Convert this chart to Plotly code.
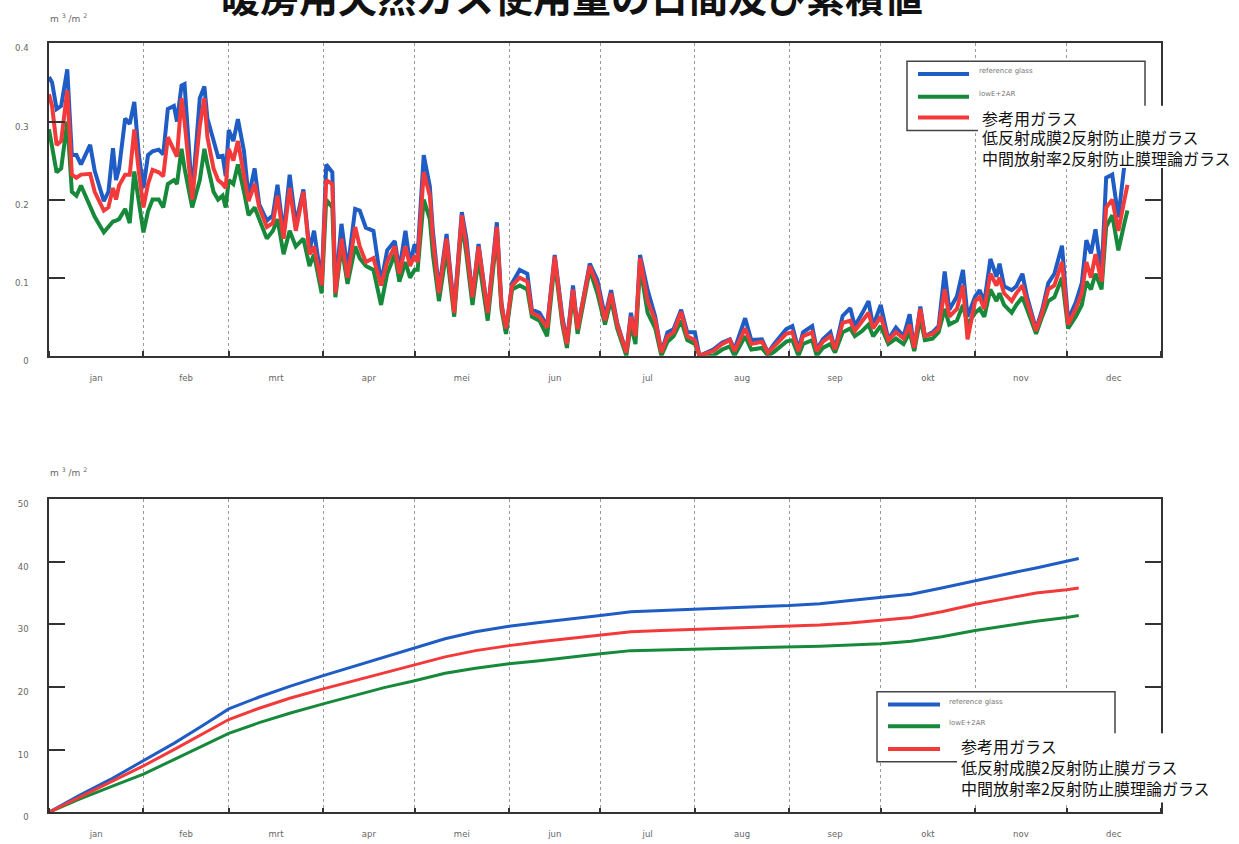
import plotly.graph_objects as go

W, H = 1239, 844

# ---------------- data ----------------
month_labels = ["jan", "feb", "mrt", "apr", "mei", "jun", "jul", "aug", "sep", "okt", "nov", "dec"]
month_starts = [0, 31, 59, 90, 120, 151, 181, 212, 243, 273, 304, 334, 365]
month_mids = [15.5, 45, 74.5, 105, 135.5, 166, 196.5, 227.5, 258, 288.5, 319, 349.5]

series_names = ["reference glass", "lowE+2AR", "mid-e+2AR"]
jp_labels = ["参考用ガラス", "低反射成膜2反射防止膜ガラス", "中間放射率2反射防止膜理論ガラス"]

daily_day = [0, 1, 2.5, 4, 6, 7.5, 9, 10.5, 13.5, 15, 18, 19.5, 21, 22, 23, 25, 26.5, 28, 29.5, 31,
             32.5, 34, 36, 37.5, 39, 41, 42, 43.5, 44.5, 47, 49.5, 51, 52, 54, 55.5, 57, 58, 59, 60.5, 62,
             64, 65.5, 67.5, 69, 71.5, 73.5, 75, 77, 79, 81, 83.5, 85.5, 87, 89.5, 91, 93, 94, 96, 98, 100.5,
             102, 104, 106.5, 109, 111, 113.5, 115, 117, 118.5, 120, 121, 123, 125, 126, 128, 130.5, 133, 135.5, 137, 139,
             141, 144, 147, 148.5, 150, 152, 154.5, 157, 158.5, 161, 163.5, 166, 168.5, 170, 172, 173.5, 177.5, 180, 182.5, 184.5,
             186.5, 189.5, 191, 192.5, 194, 196.5, 199, 201, 203, 205, 207.5, 209.5, 212, 213.5, 218, 221, 223.5, 225, 228.5, 230.5,
             234, 236, 238, 242, 244, 246, 247.5, 250.5, 252, 254, 256.5, 258, 260.5, 263, 264.5, 267, 269, 270.5, 273, 275.5,
             278, 280.5, 282.5, 284, 286, 287.5, 290, 292, 294, 295.5, 298, 300, 301.5, 304, 305.5, 307, 309, 311, 312, 313.5,
             316, 317.5, 319.5, 321, 324, 326, 328, 330, 332.5, 334.5, 337, 339, 340.5, 342, 343.5, 345.5, 347, 349, 351, 353, 354]

daily_ref = [0.357, 0.35, 0.316, 0.32, 0.367, 0.257, 0.257, 0.245, 0.27, 0.237, 0.198, 0.21, 0.266, 0.225, 0.24, 0.304, 0.297, 0.325, 0.257, 0.215,
             0.257, 0.262, 0.264, 0.258, 0.316, 0.32, 0.3, 0.346, 0.348, 0.205, 0.33, 0.345, 0.304, 0.274, 0.255, 0.256, 0.23, 0.289, 0.275, 0.303,
             0.262, 0.203, 0.24, 0.194, 0.173, 0.18, 0.219, 0.156, 0.232, 0.169, 0.213, 0.135, 0.16, 0.093, 0.245, 0.235, 0.084, 0.169, 0.11, 0.188,
             0.186, 0.164, 0.16, 0.093, 0.135, 0.147, 0.11, 0.16, 0.118, 0.143, 0.13, 0.257, 0.217, 0.16, 0.084, 0.156, 0.059, 0.184, 0.15, 0.076,
             0.143, 0.055, 0.171, 0.068, 0.03, 0.093, 0.11, 0.105, 0.059, 0.055, 0.038, 0.129, 0.05, 0.017, 0.09, 0.034, 0.118, 0.097, 0.05, 0.084,
             0.042, 0.004, 0.055, 0.025, 0.129, 0.084, 0.05, 0.004, 0.03, 0.034, 0.059, 0.03, 0.03, 0.0, 0.008, 0.017, 0.021, 0.008, 0.048, 0.02,
             0.021, 0.004, 0.015, 0.034, 0.038, 0.008, 0.03, 0.038, 0.008, 0.021, 0.03, 0.008, 0.051, 0.061, 0.038, 0.055, 0.07, 0.038, 0.065, 0.021,
             0.036, 0.025, 0.053, 0.008, 0.063, 0.025, 0.03, 0.038, 0.108, 0.059, 0.076, 0.11, 0.05, 0.076, 0.084, 0.068, 0.124, 0.101, 0.118, 0.089,
             0.084, 0.089, 0.105, 0.076, 0.034, 0.059, 0.093, 0.105, 0.141, 0.046, 0.068, 0.093, 0.148, 0.131, 0.162, 0.105, 0.228, 0.232, 0.177, 0.245, 0.28]

daily_lowe = [0.29, 0.27, 0.235, 0.24, 0.30, 0.21, 0.205, 0.218, 0.19, 0.178, 0.158, 0.165, 0.172, 0.173, 0.175, 0.188, 0.17, 0.236, 0.2, 0.158,
              0.185, 0.2, 0.2, 0.19, 0.22, 0.225, 0.22, 0.265, 0.24, 0.19, 0.225, 0.265, 0.245, 0.21, 0.2, 0.205, 0.19, 0.225, 0.22, 0.245,
              0.21, 0.18, 0.19, 0.175, 0.15, 0.16, 0.175, 0.13, 0.16, 0.14, 0.15, 0.115, 0.13, 0.08, 0.2, 0.19, 0.075, 0.14, 0.092, 0.14,
              0.125, 0.115, 0.11, 0.065, 0.105, 0.13, 0.095, 0.12, 0.1, 0.11, 0.11, 0.2, 0.175, 0.13, 0.07, 0.135, 0.05, 0.17, 0.13, 0.065,
              0.125, 0.045, 0.155, 0.06, 0.028, 0.085, 0.09, 0.085, 0.05, 0.045, 0.025, 0.12, 0.04, 0.01, 0.08, 0.028, 0.11, 0.08, 0.04, 0.072,
              0.035, 0.0, 0.04, 0.015, 0.115, 0.055, 0.035, 0.0, 0.018, 0.025, 0.045, 0.02, 0.015, 0.0, 0.0, 0.008, 0.012, 0.0, 0.025, 0.008,
              0.01, 0.0, 0.005, 0.018, 0.02, 0.0, 0.015, 0.02, 0.0, 0.01, 0.015, 0.004, 0.03, 0.035, 0.025, 0.032, 0.04, 0.025, 0.038, 0.015,
              0.022, 0.015, 0.03, 0.006, 0.048, 0.02, 0.022, 0.03, 0.06, 0.04, 0.045, 0.065, 0.04, 0.055, 0.06, 0.05, 0.085, 0.07, 0.08, 0.065,
              0.055, 0.065, 0.075, 0.06, 0.028, 0.05, 0.07, 0.075, 0.1, 0.035, 0.05, 0.065, 0.095, 0.085, 0.105, 0.085, 0.165, 0.18, 0.135, 0.17, 0.186]

daily_mide = [0.335, 0.32, 0.27, 0.275, 0.34, 0.232, 0.228, 0.232, 0.233, 0.21, 0.186, 0.19, 0.215, 0.2, 0.218, 0.232, 0.232, 0.29, 0.235, 0.19,
              0.22, 0.238, 0.235, 0.23, 0.28, 0.265, 0.255, 0.33, 0.3, 0.2, 0.295, 0.33, 0.28, 0.24, 0.225, 0.22, 0.215, 0.265, 0.25, 0.275,
              0.23, 0.198, 0.22, 0.19, 0.165, 0.17, 0.205, 0.15, 0.215, 0.16, 0.21, 0.13, 0.14, 0.09, 0.225, 0.22, 0.08, 0.15, 0.1, 0.165,
              0.14, 0.12, 0.125, 0.09, 0.12, 0.14, 0.105, 0.14, 0.115, 0.128, 0.12, 0.235, 0.205, 0.15, 0.08, 0.15, 0.055, 0.18, 0.14, 0.075,
              0.14, 0.055, 0.165, 0.065, 0.035, 0.09, 0.1, 0.095, 0.055, 0.05, 0.036, 0.127, 0.045, 0.015, 0.085, 0.034, 0.115, 0.09, 0.045, 0.08,
              0.04, 0.004, 0.05, 0.025, 0.125, 0.07, 0.045, 0.004, 0.025, 0.03, 0.056, 0.025, 0.02, 0.0, 0.006, 0.015, 0.02, 0.006, 0.035, 0.015,
              0.018, 0.004, 0.012, 0.028, 0.03, 0.006, 0.025, 0.03, 0.006, 0.018, 0.025, 0.008, 0.042, 0.045, 0.032, 0.045, 0.055, 0.035, 0.05, 0.02,
              0.03, 0.022, 0.04, 0.01, 0.06, 0.025, 0.028, 0.035, 0.085, 0.05, 0.06, 0.09, 0.021, 0.07, 0.075, 0.06, 0.105, 0.09, 0.1, 0.08,
              0.07, 0.08, 0.09, 0.07, 0.032, 0.055, 0.085, 0.09, 0.12, 0.04, 0.06, 0.08, 0.12, 0.1, 0.13, 0.095, 0.19, 0.2, 0.16, 0.2, 0.219]

cum_day = [0, 10, 20, 31, 41, 51, 59, 69, 79, 90, 100, 110, 120, 130, 140, 151, 161, 171, 181, 191, 201, 212,
           222, 232, 243, 253, 263, 273, 283, 293, 304, 314, 324, 334, 338]
cum_ref = [0, 2.7, 5.2, 8.2, 11.0, 14.0, 16.5, 18.4, 20.1, 21.8, 23.3, 24.7, 26.3, 27.7, 28.8, 29.7, 30.3, 30.8, 31.4, 32.0,
           32.2, 32.5, 32.6, 32.8, 33.0, 33.3, 33.8, 34.3, 34.8, 35.8, 37.0, 38.0, 39.0, 40.1, 40.5]
cum_lowe = [0, 2.1, 4.0, 6.1, 8.4, 10.8, 12.6, 14.3, 15.8, 17.3, 18.6, 19.9, 21.0, 22.2, 23.0, 23.7, 24.2, 24.8, 25.3, 25.8,
            25.9, 26.0, 26.1, 26.2, 26.3, 26.5, 26.7, 26.9, 27.3, 28.0, 29.0, 29.8, 30.5, 31.1, 31.4]
cum_mide = [0, 2.4, 4.7, 7.4, 10.0, 12.7, 14.8, 16.6, 18.2, 19.7, 21.0, 22.3, 23.6, 24.8, 25.8, 26.6, 27.2, 27.7, 28.2, 28.8,
            29.0, 29.2, 29.3, 29.5, 29.7, 29.9, 30.2, 30.6, 31.1, 32.0, 33.2, 34.1, 35.0, 35.5, 35.8]

top_yticks = [0, 0.1, 0.2, 0.3, 0.4]
top_yticktext = ["0", "0.1", "0.2", "0.3", "0.4"]
bot_yticks = [0, 10, 20, 30, 40, 50]
bot_yticktext = ["0", "10", "20", "30", "40", "50"]

title_text = "暖房用天然ガス使用量の日間及び累積値"
unit_text = "m <sup>3</sup> /m <sup>2</sup>"

colors = ["#1f5cc4", "#17893a", "#f23a3a"]

# ---------------- figure ----------------
def px(x):
    return x / W

def py(y):
    return 1 - y / H

fig = go.Figure()

daily = [daily_ref, daily_lowe, daily_mide]
cum = [cum_ref, cum_lowe, cum_mide]
for i in range(3):
    fig.add_trace(go.Scatter(x=daily_day, y=daily[i], mode="lines", name=series_names[i],
                             line=dict(color=colors[i], width=4), xaxis="x", yaxis="y",
                             showlegend=False))
for i in range(3):
    fig.add_trace(go.Scatter(x=cum_day, y=cum[i], mode="lines", name=series_names[i],
                             line=dict(color=colors[i], width=3), xaxis="x2", yaxis="y2",
                             showlegend=False))

label_font = dict(family="DejaVu Sans, Arial", size=8.5, color="#666")

def xaxis_cfg(anchor):
    return dict(
        domain=[px(49), px(1161)], range=[0, 365], anchor=anchor,
        tickmode="array", tickvals=month_mids, ticktext=month_labels,
        ticks="", showgrid=False, zeroline=False,
        showline=True, linecolor="#333", linewidth=1.5, mirror=True,
        tickfont=label_font, ticklabelstandoff=13,
        minor=dict(tickmode="array", tickvals=month_starts, showgrid=True,
                   gridcolor="#9a9a9a", griddash="dot", gridwidth=1,
                   ticks="inside", ticklen=5, tickcolor="#333", tickwidth=1.5),
    )

def yaxis_cfg(anchor, dom, rng, tv, tt):
    return dict(
        domain=dom, range=rng, anchor=anchor,
        tickmode="array", tickvals=tv, ticktext=tt,
        ticks="inside", ticklen=16, tickwidth=2, tickcolor="#333",
        showgrid=False, zeroline=False,
        showline=True, linecolor="#333", linewidth=1.5, mirror="ticks",
        tickfont=label_font, ticklabelstandoff=17, ticklabelshift=5,
    )

fig.update_layout(
    width=W, height=H,
    margin=dict(l=0, r=0, t=0, b=0),
    paper_bgcolor="white", plot_bgcolor="white",
    showlegend=False,
    xaxis=xaxis_cfg("y"),
    yaxis=yaxis_cfg("x", [py(360), py(44)], [0, 0.4], top_yticks, top_yticktext),
    xaxis2=xaxis_cfg("y2"),
    yaxis2=yaxis_cfg("x2", [py(822), py(505)], [0, 50], bot_yticks, bot_yticktext),
)

shapes = []
annotations = []

# title (partly cut off at the top, as in the reference)
annotations.append(dict(text="<b>" + title_text + "</b>", x=px(572), y=py(-5), xref="paper", yref="paper",
                        xanchor="center", yanchor="middle", showarrow=False,
                        font=dict(family="Noto Sans CJK JP", size=39, color="#111")))

# unit labels
for uy in (18, 478):
    annotations.append(dict(text=unit_text, x=px(48), y=py(uy), xref="paper", yref="paper",
                            xanchor="left", yanchor="middle", showarrow=False,
                            font=dict(family="DejaVu Sans, Arial", size=9, color="#666")))

def legend_block(bx0, by0, bx1, by1, line_ys, lx0, lx1, tx, wb, jp_ys):
    shapes.append(dict(type="rect", xref="paper", yref="paper", x0=px(bx0), x1=px(bx1), y0=py(by0), y1=py(by1),
                       line=dict(color="#444", width=1.5), fillcolor="white", layer="above"))
    for i, ly in enumerate(line_ys):
        shapes.append(dict(type="line", xref="paper", yref="paper", x0=px(lx0), x1=px(lx1), y0=py(ly), y1=py(ly),
                           line=dict(color=colors[i], width=4), layer="above"))
    for i in range(2):
        annotations.append(dict(text=series_names[i], x=px(tx), y=py(line_ys[i] - 3), xref="paper", yref="paper",
                                xanchor="left", yanchor="middle", showarrow=False,
                                font=dict(family="DejaVu Sans, Arial", size=7, color="#777")))
    # white box with Japanese labels covering part of the legend
    shapes.append(dict(type="rect", xref="paper", yref="paper", x0=px(wb[0]), x1=px(wb[2]), y0=py(wb[1]), y1=py(wb[3]),
                       line=dict(width=0), fillcolor="white", layer="above"))
    for i, jy in enumerate(jp_ys):
        annotations.append(dict(text=jp_labels[i], x=px(wb[0] + 2), y=py(jy), xref="paper", yref="paper",
                                xanchor="left", yanchor="middle", showarrow=False,
                                font=dict(family="Noto Sans CJK JP", size=16, color="#111")))

legend_block(907, 62, 1145, 132, [75, 98, 119], 918, 969, 977, (978, 107, 1239, 170), [119, 139, 160])
legend_block(877, 700, 1115, 771, [713, 735, 758], 888, 940, 947, (957, 742, 1222, 812), [755, 776, 797])

fig.update_layout(shapes=shapes, annotations=annotations)

fig.write_html("out.html", config={"displayModeBar": False},
               post_script="document.body.style.margin='0px';document.body.style.overflow='hidden';")
